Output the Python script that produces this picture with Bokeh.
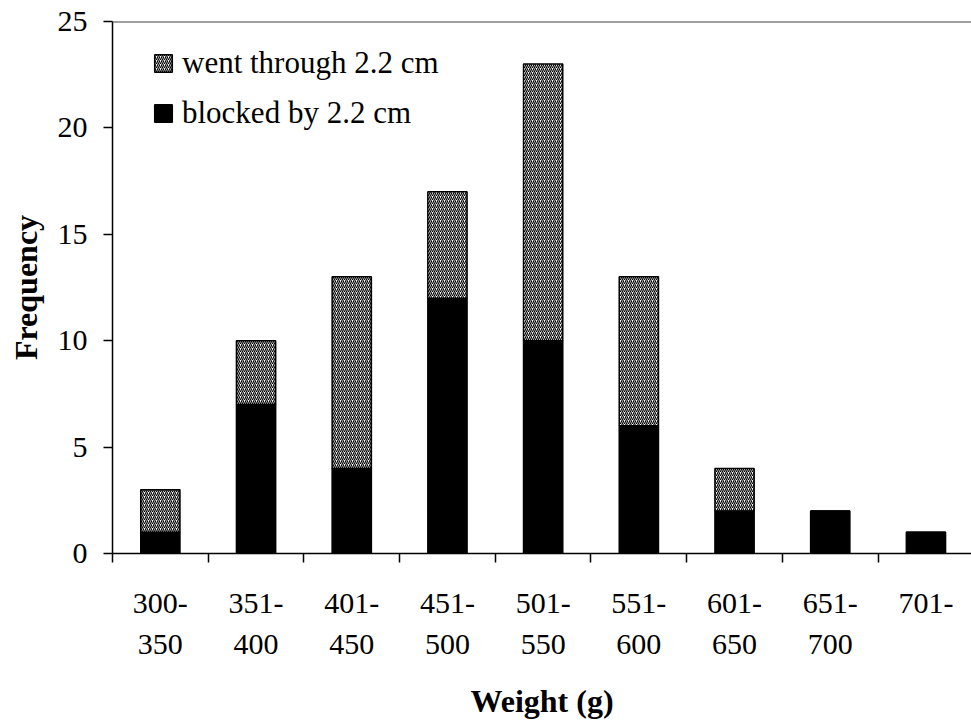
from bokeh.plotting import figure
from bokeh.models import FixedTicker, Span, Legend, LegendItem, Range1d
from bokeh.embed import file_html
from bokeh.resources import INLINE

categories = ["300-\n350", "351-\n400", "401-\n450", "451-\n500", "501-\n550",
              "551-\n600", "601-\n650", "651-\n700", "701-"]
blocked = [1, 7, 4, 12, 10, 6, 2, 2, 1]
went_through = [2, 3, 9, 5, 13, 7, 2, 0, 0]
y_ticks = [0, 5, 10, 15, 20, 25]

FONT = "Liberation Serif"

x = [i + 1 for i in range(len(categories))]
totals = [b + w for b, w in zip(blocked, went_through)]
bounds = [i + 0.5 for i in range(len(categories) + 1)]

p = figure(width=971, height=721, output_backend="svg", toolbar_location=None,
           x_range=Range1d(0.5, 9.476), y_range=Range1d(0, 25),
           min_border_left=112, min_border_top=21, min_border_right=0,
           min_border_bottom=167)
p.outline_line_color = None
p.grid.visible = False
p.background_fill_color = "white"
p.border_fill_color = "white"

r_block = p.vbar(x=x, bottom=0, top=blocked, width=0.41, fill_color="black",
                 line_color="black", line_width=1.5)
r_went = p.vbar(x=x, bottom=blocked, top=totals, width=0.41, fill_color="white",
                hatch_pattern="/", hatch_scale=4, hatch_weight=1.2, hatch_color="black",
                line_color="black", line_width=1.5)

p.add_layout(Span(location=25, dimension="width", line_color="#404040", line_width=2))

xa = p.xaxis[0]
xa.ticker = FixedTicker(ticks=x, minor_ticks=bounds)
xa.major_label_overrides = {xi: c for xi, c in zip(x, categories)}
xa.major_tick_line_color = None
xa.major_tick_out = 0
xa.major_tick_in = 0
xa.minor_tick_out = 9
xa.minor_tick_in = 0
xa.minor_tick_line_color = "black"
xa.minor_tick_line_width = 1.5
xa.axis_line_color = "black"
xa.axis_line_width = 1.5
xa.major_label_standoff = 23
xa.major_label_text_font = FONT
xa.major_label_text_font_size = "30px"
xa.major_label_text_line_height = 1.25
xa.major_label_text_color = "black"
xa.axis_label = "Weight (g)"
xa.axis_label_text_font = FONT
xa.axis_label_text_font_style = "bold"
xa.axis_label_text_font_size = "32px"
xa.axis_label_standoff = 20
xa.axis_label_text_color = "black"

ya = p.yaxis[0]
ya.ticker = FixedTicker(ticks=y_ticks, minor_ticks=[])
ya.major_tick_out = 9
ya.major_tick_in = 0
ya.major_tick_line_color = "black"
ya.major_tick_line_width = 1.5
ya.axis_line_color = "black"
ya.axis_line_width = 1.5
ya.major_label_standoff = 16
ya.major_label_text_font = FONT
ya.major_label_text_font_size = "30px"
ya.major_label_text_color = "black"
ya.axis_label = "Frequency"
ya.axis_label_text_font = FONT
ya.axis_label_text_font_style = "bold"
ya.axis_label_text_font_size = "32px"
ya.axis_label_standoff = 11
ya.axis_label_text_color = "black"

legend = Legend(items=[LegendItem(label="went through 2.2 cm", renderers=[r_went]),
                       LegendItem(label="blocked by 2.2 cm", renderers=[r_block])],
                location=(40, 422))
legend.margin = 0
legend.padding = 0
legend.border_line_color = None
legend.background_fill_alpha = 0
legend.label_text_font = FONT
legend.label_text_font_size = "31px"
legend.label_text_color = "black"
legend.glyph_width = 22
legend.glyph_height = 22
legend.label_height = 33
legend.label_standoff = 8
legend.spacing = 14
p.add_layout(legend)

open("out.html", "w").write(file_html(p, INLINE))
